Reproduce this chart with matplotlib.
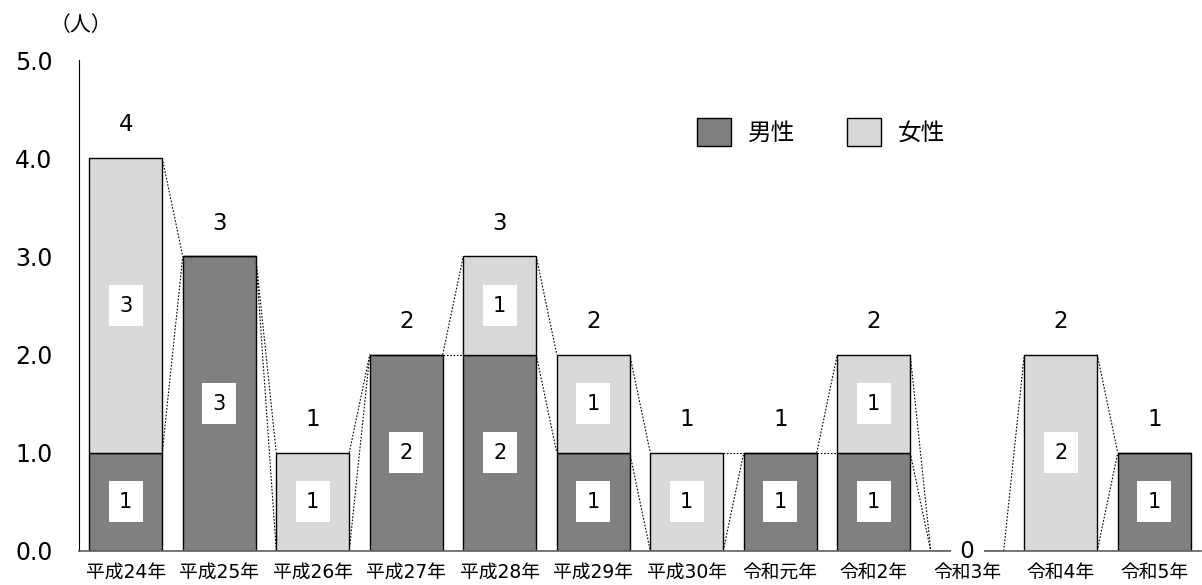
import matplotlib
matplotlib.use("Agg")
import matplotlib.pyplot as plt
import numpy as np

plt.rcParams['font.family'] = ['DejaVu Sans', 'Noto Sans CJK JP']

years = ["平成24年", "平成25年", "平成26年", "平成27年", "平成28年", "平成29年",
         "平成30年", "令和元年", "令和2年", "令和3年", "令和4年", "令和5年"]
male = [1, 3, 0, 2, 2, 1, 0, 1, 1, 0, 0, 1]
female = [3, 0, 1, 0, 1, 1, 1, 0, 1, 0, 2, 0]

male_c = "#808080"
female_c = "#d9d9d9"

male = np.array(male)
female = np.array(female)
total = male + female
x = np.arange(len(years))
w = 0.78

fig = plt.figure(figsize=(12.02, 5.85), dpi=100)
ax = fig.add_axes([79 / 1202, 34 / 585, 1122 / 1202, 491 / 585])

ax.bar(x, male, w, color=male_c, edgecolor="black", linewidth=1, label="男性", zorder=2)
ax.bar(x, female, w, bottom=male, color=female_c, edgecolor="black", linewidth=1,
       label="女性", zorder=2)

# series lines between neighbouring bars
for tops in (male, total):
    for i in range(len(x) - 1):
        ax.plot([x[i] + w / 2, x[i + 1] - w / 2], [tops[i], tops[i + 1]],
                color="black", linestyle=(0, (1.5, 1.5)), linewidth=0.8, zorder=1)

# value labels inside segments
box = dict(boxstyle="square,pad=0.5", facecolor="white", edgecolor="none")
for i in range(len(x)):
    if male[i] > 0:
        ax.text(x[i], male[i] / 2, str(male[i]), ha="center", va="center",
                fontsize=15, bbox=box, zorder=3)
    if female[i] > 0:
        ax.text(x[i], male[i] + female[i] / 2, str(female[i]), ha="center",
                va="center", fontsize=15, bbox=box, zorder=3)
    if total[i] > 0:
        ax.annotate(str(total[i]), (x[i], total[i]), xytext=(0, 24),
                    textcoords="offset points", ha="center", va="center", fontsize=16.5)
    else:
        # zero total sits on the axis line with a white gap around it
        ax.text(x[i], 0, " " + str(total[i]) + " ", ha="center", va="center",
                fontsize=16.5, bbox=dict(boxstyle="square,pad=0.08", facecolor="white",
                                         edgecolor="none"), zorder=4, clip_on=False)

ax.set_xlim(-0.5, 11.5)
ax.set_ylim(0, 5)
ax.set_yticks([0, 1, 2, 3, 4, 5])
ax.set_yticklabels(["0.0", "1.0", "2.0", "3.0", "4.0", "5.0"], fontsize=17)
ax.set_xticks(x)
ax.set_xticklabels(years, fontsize=13.5)
ax.tick_params(axis="both", length=0)
ax.tick_params(axis="y", pad=19)
ax.tick_params(axis="x", pad=8.5)

for s in ("top", "right"):
    ax.spines[s].set_visible(False)
ax.spines["left"].set_color("black")
ax.spines["bottom"].set_color("#606060")
ax.spines["bottom"].set_linewidth(1.2)

fig.text(81 / 1202, 1 - 25 / 585, "（人）", fontsize=15, va="center", ha="center",
         family="Noto Sans CJK JP")

leg = ax.legend(loc="center left", bbox_to_anchor=((697 - 79) / 1122, (551 - 132) / 491),
                ncol=2, frameon=False, borderpad=0, borderaxespad=0,
                fontsize=17, handlelength=1.44, handleheight=1.44, columnspacing=2.2,
                handletextpad=0.72)

fig.savefig("out.png", dpi=100)
